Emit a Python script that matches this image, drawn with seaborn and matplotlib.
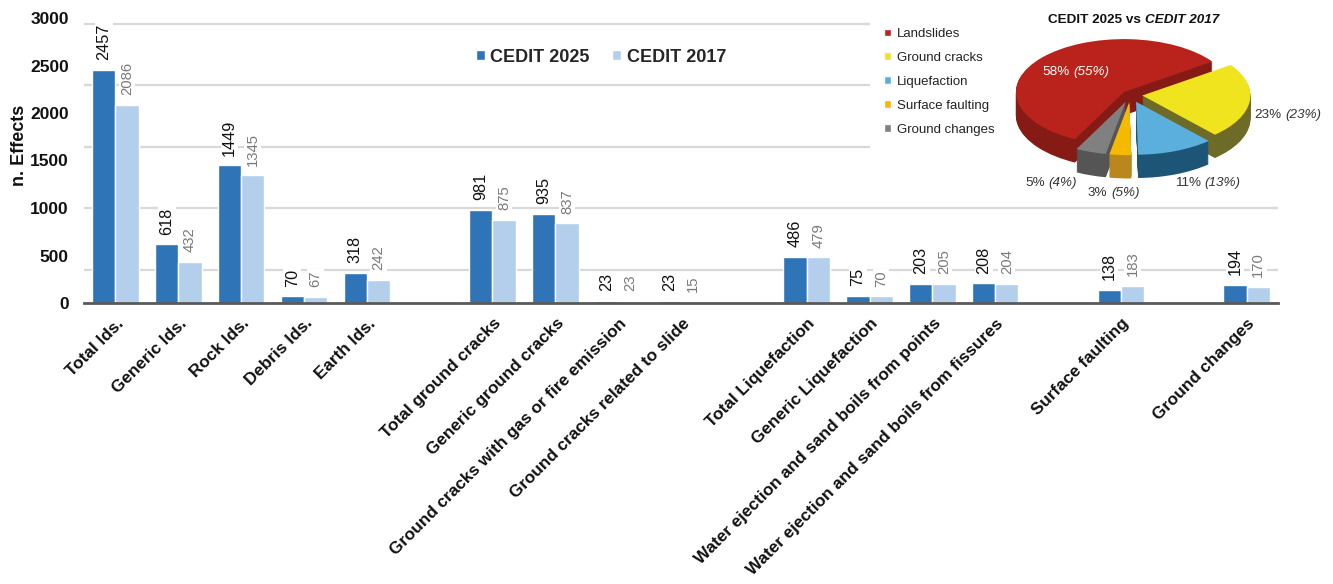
import numpy as np
import pandas as pd
import matplotlib
matplotlib.use("Agg")
import matplotlib.pyplot as plt
import matplotlib.transforms as mtransforms
import seaborn as sns
from matplotlib.patches import Patch
from matplotlib.ticker import FixedLocator

# ---- data -------------------------------------------------------------
categories = [
    "Total lds.", "Generic lds.", "Rock lds.", "Debris lds.", "Earth lds.",
    "Total ground cracks", "Generic ground cracks",
    "Ground cracks with gas or fire emission", "Ground cracks related to slide",
    "Total Liquefaction", "Generic Liquefaction",
    "Water ejection and sand boils from points",
    "Water ejection and sand boils from fissures",
    "Surface faulting", "Ground changes",
]
groups = (["Landslides"] * 5 + ["Ground cracks"] * 4 + ["Liquefaction"] * 4
          + ["Surface faulting", "Ground changes"])
cedit_2025 = [2457, 618, 1449, 70, 318, 981, 935, 23, 23, 486, 75, 203, 208, 138, 194]
cedit_2017 = [2086, 432, 1345, 67, 242, 875, 837, 23, 15, 479, 70, 205, 204, 183, 170]
series = ["CEDIT 2025", "CEDIT 2017"]

pie_groups = ["Landslides", "Ground cracks", "Liquefaction", "Surface faulting", "Ground changes"]
pie_totals = ["Total lds.", "Total ground cracks", "Total Liquefaction",
              "Surface faulting", "Ground changes"]
y_ticks = [0, 500, 1000, 1500, 2000, 2500, 3000]

# ---- style ------------------------------------------------------------
sns.set_theme(style="white")
plt.rcParams["font.family"] = ["Liberation Sans", "DejaVu Sans"]

W, H = 1333, 584
fig = plt.figure(figsize=(W / 100, H / 100), dpi=100)

col_2025 = "#2e74b7"
col_2017 = "#b4cfeb"

# category slots with an empty slot between effect groups
order = []
for i, (cat, grp) in enumerate(zip(categories, groups)):
    if i > 0 and grp != groups[i - 1]:
        order.append(" " * i)
    order.append(cat)

df = pd.DataFrame({
    "category": categories * 2,
    "series": [series[0]] * len(categories) + [series[1]] * len(categories),
    "value": cedit_2025 + cedit_2017,
})

ax = fig.add_axes([84 / W, 1 - 303 / H, 1194 / W, 285 / H])
sns.barplot(data=df, x="category", y="value", hue="series", order=order,
            hue_order=series, palette=[col_2025, col_2017], saturation=1,
            width=0.74, gap=0, errorbar=None, ax=ax)

ax.set_xlim(-0.5, len(order) - 0.5)
ax.set_ylim(0, 3000)

# value labels on top of every bar
for cont, colr, fs in zip(ax.containers, ["#111111", "#7a7a7a"], [11.7, 10.7]):
    ax.bar_label(cont, fmt="{:.0f}", rotation=90, padding=7, color=colr,
                 fontsize=fs, bbox=dict(fc="white", ec="none", pad=1.0))

# axes cosmetics
ax.set_yticks(y_ticks)
ax.set_yticklabels([str(v) for v in y_ticks], fontsize=12.5, fontweight="bold",
                   color="#111111")
ax.yaxis.set_minor_locator(FixedLocator([350, 995, 1642, 2292, 2941]))
ax.tick_params(axis="y", which="both", length=0, pad=11)
ax.grid(False)
ax.grid(axis="y", which="minor", color="#d9d9d9", linewidth=1.6)
ax.set_axisbelow(True)

pos = [order.index(c) for c in categories]
ax.set_xticks(pos)
ax.set_xticklabels(categories, rotation=45, ha="right", va="center",
                   rotation_mode="anchor", fontsize=12.3, fontweight="bold",
                   color="#111111")
ax.tick_params(axis="x", length=0, pad=13)
shift = mtransforms.ScaledTranslation(6 / 100, 0, fig.dpi_scale_trans)
for lab in ax.get_xticklabels():
    lab.set_transform(lab.get_transform() + shift)
ax.set_xlabel("")
ax.set_ylabel("n. Effects", fontsize=13, fontweight="bold", color="#111111")
ax.yaxis.set_label_coords(-0.047, 0.554)

for s in ["top", "right", "left"]:
    ax.spines[s].set_visible(False)
ax.spines["bottom"].set_color("#595959")
ax.spines["bottom"].set_linewidth(2)

handles, labels = ax.get_legend_handles_labels()
if ax.get_legend() is not None:
    ax.get_legend().remove()
fig.legend(handles, labels, loc="center left",
           bbox_to_anchor=(476 / W, 1 - 57 / H), bbox_transform=fig.transFigure,
           ncol=2, frameon=False, borderpad=0, borderaxespad=0,
           handlelength=0.5, handleheight=0.5, handletextpad=0.3,
           columnspacing=1.25, prop=dict(size=13, weight="bold"))

# ---- inset: share of each effect type -----------------------------------
wax = fig.add_axes([870 / W, 1 - 200 / H, (W - 870) / W, 200 / H], zorder=1)
wax.set_facecolor("white")
for s in wax.spines.values():
    s.set_visible(False)
wax.set_xticks([])
wax.set_yticks([])

tot25 = np.array([cedit_2025[categories.index(c)] for c in pie_totals], float)
tot17 = np.array([cedit_2017[categories.index(c)] for c in pie_totals], float)
pct25 = np.round(tot25 / tot25.sum() * 100).astype(int)
pct17 = np.round(tot17 / tot17.sum() * 100).astype(int)

pie_top = ["#b9231c", "#f0e41e", "#5aafdc", "#f5b900", "#808080"]
pie_side = ["#861a14", "#6e6a28", "#1d5576", "#b9871e", "#555555"]

pax = fig.add_axes([990 / W, 1 - 187 / H, 281 / W, 161 / H], zorder=2)
pax.patch.set_alpha(0)
explode = [0.08, 0.11, 0.14, 0.14, 0.14]
start = 243
depth = 0.44
for d in np.linspace(depth, 0.0, 30, endpoint=False):
    pax.pie(tot25, explode=explode, startangle=start, counterclock=False,
            colors=pie_side, center=(0, -d), wedgeprops=dict(linewidth=0),
            frame=True)
pax.pie(tot25, explode=explode, startangle=start, counterclock=False,
        colors=pie_top, center=(0, 0), wedgeprops=dict(linewidth=0), frame=True)
pax.set_aspect("auto")
pax.set_xlim(-1.3, 1.3)
pax.set_ylim(-1.3 - depth, 1.3)
pax.axis("off")

fig.legend([Patch(fc=c) for c in pie_top], pie_groups, loc="upper left",
           bbox_to_anchor=(884 / W, 1 - 28 / H), bbox_transform=fig.transFigure,
           frameon=False, borderpad=0, borderaxespad=0, fontsize=9.5,
           handlelength=0.5, handleheight=0.5, handletextpad=0.45,
           labelspacing=0.9, labelcolor="#222222")


def two_part(x_px, y_px, first, second, color, size, weight="normal"):
    t1 = pax.text(x_px / W, 1 - y_px / H, first, transform=fig.transFigure,
                  ha="left", va="center", color=color, fontsize=size,
                  fontweight=weight)
    pax.annotate(second, xy=(1, 0.5), xycoords=t1, xytext=(size * 0.28, 0),
                 textcoords="offset points", ha="left", va="center",
                 color=color, fontsize=size, fontweight=weight, style="italic")


two_part(1048, 20, "CEDIT 2025 vs", "CEDIT 2017", "#111111", 9.7, "bold")

label_spots = [(1042, 72), (1254, 115), (1175, 183), (1088, 193), (1025, 183)]
label_colors = ["white", "#333333", "#333333", "#333333", "#333333"]
for (lx, ly), p25, p17, lc in zip(label_spots, pct25, pct17, label_colors):
    two_part(lx, ly, f"{p25}%", f"({p17}%)", lc, 9.7)

fig.savefig("out.png", dpi=100)
